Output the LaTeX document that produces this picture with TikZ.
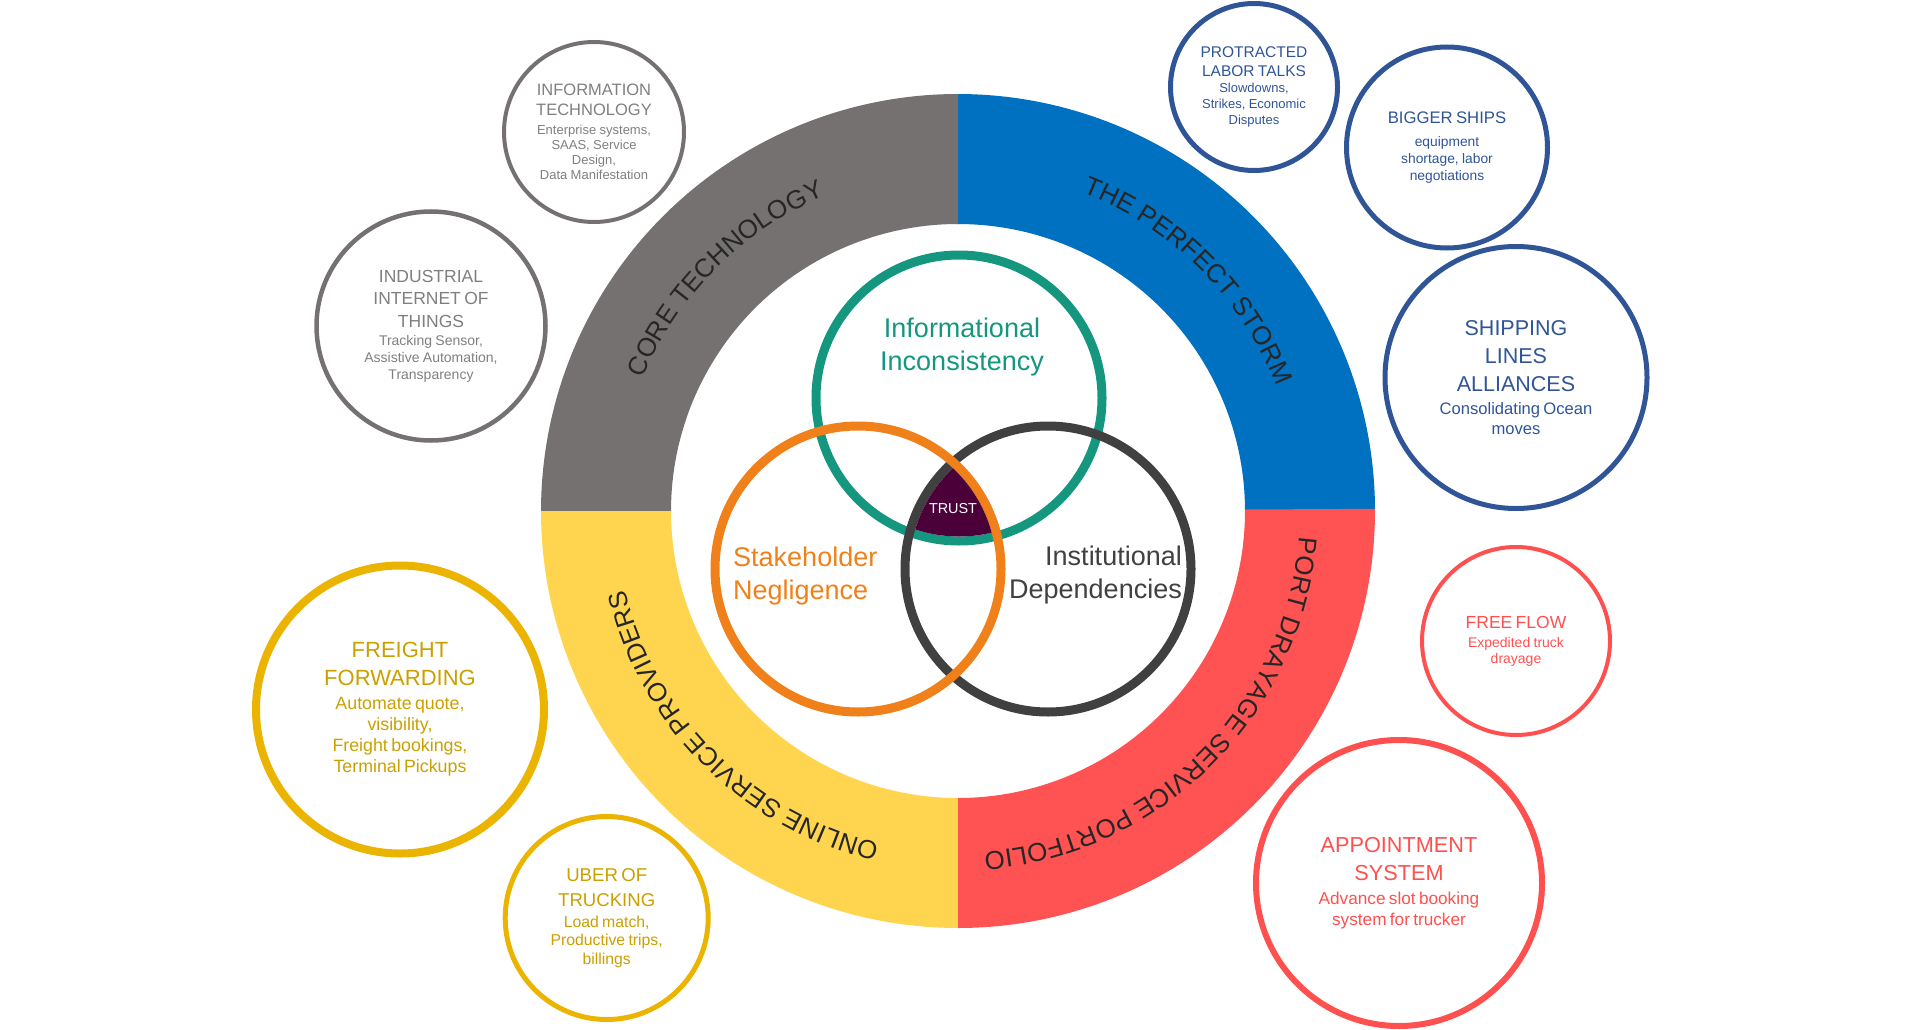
\documentclass[tikz,border=0pt]{standalone}
\usepackage{fontspec}
\setmainfont{Liberation Sans}
\usetikzlibrary{decorations.text}
\definecolor{coregray}{HTML}{767171}
\definecolor{stormblue}{HTML}{0070C0}
\definecolor{portred}{HTML}{FF5252}
\definecolor{onlineyellow}{HTML}{FFD54F}
\definecolor{infoteal}{HTML}{15967F}
\definecolor{stakeorange}{HTML}{F08019}
\definecolor{instdark}{HTML}{404040}
\definecolor{trustpurple}{HTML}{4B003A}
\definecolor{graytext}{HTML}{7F7F7F}
\definecolor{bluetext}{HTML}{2F5597}
\definecolor{redtext}{HTML}{FF5050}
\definecolor{goldline}{HTML}{EBB400}
\definecolor{goldtext}{HTML}{C9A000}
\definecolor{ringtext}{HTML}{262626}
\newcommand\fsz[2]{\fontsize{#1pt}{#2pt}\selectfont}
\def\ringfont{\fontsize{26pt}{26pt}\selectfont}
\tikzset{
  ringlabel/.style={decorate, decoration={text along path, text color=ringtext, text align=center, text={|\ringfont|#1}}},
  bubble/.style={circle, draw=#1, inner sep=0pt},
  blurb/.style={text=#1, align=center, text width=260pt, inner sep=0pt},
  venn/.style={circle, draw=#1, line width=9pt, minimum size=286pt, inner sep=0pt},
  venntext/.style={font=\fsz{27}{32.3}, inner sep=0pt},
  trustlabel/.style={text=white, font=\fsz{14.4}{16}, inner sep=0pt}
}
\begin{document}
\begin{tikzpicture}[x=1pt,y=1pt]
  \useasboundingbox (0,0) rectangle (1920,-1030);
  \coordinate (ring) at (958,-511);
  \foreach \a/\col in {0/stormblue, 90/coregray, 180/onlineyellow, 270/portred}
    \fill[\col] (ring) ++(\a:417) arc[start angle=\a, end angle=\a+90.3, radius=417]
      -- ++(\a+90.3:-130) arc[start angle=\a+90.3, end angle=\a, radius=287] -- cycle;
  \path[ringlabel={CORE TECHNOLOGY}] (ring) ++(215:342) arc[start angle=215, end angle=55, radius=342];
  \path[ringlabel={THE PERFECT STORM}] (ring) ++(125:342) arc[start angle=125, end angle=-35, radius=342];
  \path[ringlabel={PORT DRAYAGE SERVICE PORTFOLIO}] (ring) ++(35:342) arc[start angle=35, end angle=-125, radius=342];
  \path[ringlabel={ONLINE SERVICE PROVIDERS}] (ring) ++(-55:342) arc[start angle=-55, end angle=-215, radius=342];

  \node[venn=infoteal] (info) at (959,-398) {};
  \node[venn=instdark] (inst) at (1048,-569) {};
  \node[venn=stakeorange] (stake) at (858,-569) {};
  \begin{scope}
    \clip (info) circle[radius=138.5];
    \clip (stake) circle[radius=138.5];
    \fill[trustpurple] (inst) circle[radius=138.5];
  \end{scope}
  \node[trustlabel] (trust) at (953,-509) {TRUST};
  \node[venntext, text=infoteal, align=center] (info-t) at (962,-347) {Informational\\Inconsistency};
  \node[venntext, text=stakeorange, align=left, anchor=west] (stake-t) at (733,-576) {Stakeholder\\Negligence};
  \node[venntext, text=instdark, align=right, anchor=east] (inst-t) at (1182,-575) {Institutional\\Dependencies};

  \node[bubble=coregray, line width=4pt, minimum size=180pt] (infotech) at (594,-132) {};
  \node[blurb=graytext] (infotech-t) at (infotech) {\fsz{16.5}{20}INFORMATION\\TECHNOLOGY\par\vspace{3.4pt}
    \fsz{13}{15}Enterprise systems,\\SAAS, Service\\Design,\\Data Manifestation\par};
  \node[bubble=coregray, line width=4.5pt, minimum size=229pt] (iiot) at (431,-326) {};
  \node[blurb=graytext] (iiot-t) at (iiot) {\fsz{17.5}{22.5}INDUSTRIAL\\INTERNET OF\\THINGS\par\vspace{0.7pt}
    \fsz{14}{17}Tracking Sensor,\\Assistive Automation,\\Transparency\par};

  \node[bubble=bluetext, line width=5pt, minimum size=167pt] (labor) at (1254,-87) {};
  \node[blurb=bluetext] (labor-t) at (labor) {\fsz{15.5}{19.4}PROTRACTED\\LABOR TALKS\par\vspace{0.3pt}
    \fsz{13}{16}Slowdowns,\\Strikes, Economic\\Disputes\par};
  \node[bubble=bluetext, line width=5pt, minimum size=201pt] (ships) at (1447,-147.5) {};
  \node[blurb=bluetext] (ships-t) at (ships) {\fsz{16.7}{20}BIGGER SHIPS\par\vspace{5.3pt}
    \fsz{13.8}{17}equipment\\shortage, labor\\negotiations\par};
  \node[bubble=bluetext, line width=5pt, minimum size=262pt] (alliances) at (1516,-377.5) {};
  \node[blurb=bluetext] (alliances-t) at (alliances) {\fsz{21.5}{28}SHIPPING\\LINES\\ALLIANCES\par\vspace{3pt}
    \fsz{16.6}{20}Consolidating Ocean\\moves\par};

  \node[bubble=redtext, line width=4pt, minimum size=188pt] (freeflow) at (1516,-641) {};
  \node[blurb=redtext] (freeflow-t) at (freeflow) {\fsz{17.5}{21}FREE FLOW\par\vspace{3.3pt}
    \fsz{14}{16}Expedited truck\\drayage\par};
  \node[bubble=redtext, line width=6pt, minimum size=286pt] (appoint) at (1399,-883) {};
  \node[blurb=redtext] (appoint-t) at (appoint) {\fsz{21.7}{28.3}APPOINTMENT\\SYSTEM\par\vspace{2.3pt}
    \fsz{17.2}{21}Advance slot booking\\system for trucker\par};

  \node[bubble=goldline, line width=8pt, minimum size=288pt] (freight) at (400,-709.5) {};
  \node[blurb=goldtext] (freight-t) at (freight) {\fsz{22}{27.7}FREIGHT\\FORWARDING\par\vspace{3pt}
    \fsz{17.8}{21}Automate quote,\\visibility,\\Freight bookings,\\Terminal Pickups\par};
  \node[bubble=goldline, line width=5pt, minimum size=203pt] (uber) at (606.7,-918) {};
  \node[blurb=goldtext] (uber-t) at (uber) {\fsz{18.6}{25.3}UBER OF\\TRUCKING\par\vspace{2pt}
    \fsz{15.8}{18.7}Load match,\\Productive trips,\\billings\par};
\end{tikzpicture}
\end{document}
